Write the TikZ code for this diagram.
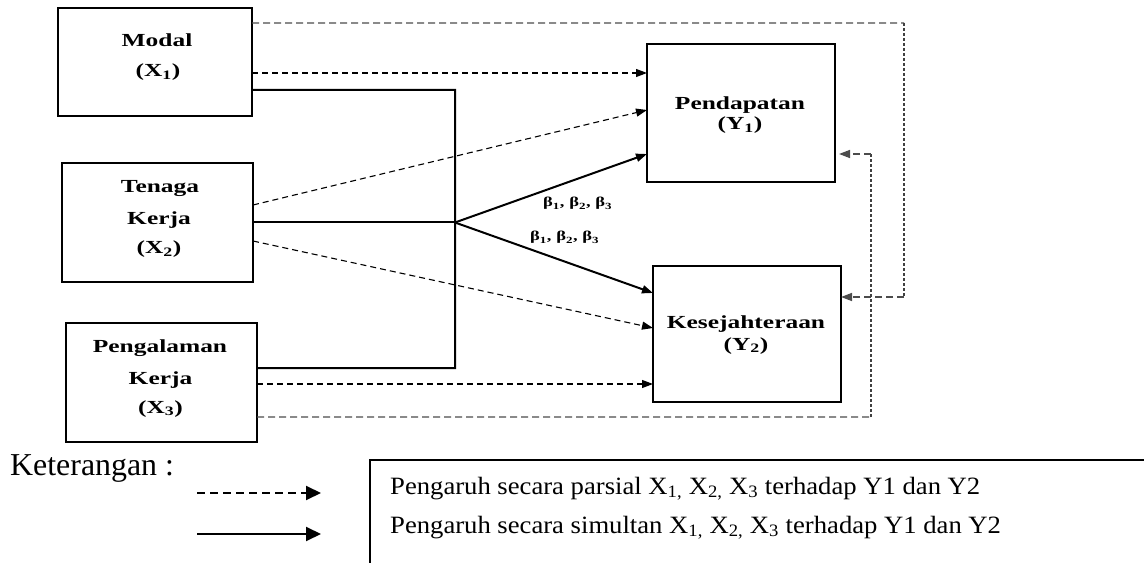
\documentclass[tikz,border=0pt]{standalone}
\usepackage{fontspec}
\setmainfont{Liberation Serif}
\newfontfamily\boxfont[FakeStretch=1.38]{Liberation Serif}
\newfontfamily\legfont[FakeStretch=1.07]{Liberation Serif}
\usetikzlibrary{arrows.meta}
\tikzset{
  box/.style={draw, line width=1.2bp, inner sep=0pt, outer sep=0pt},
  lbl/.style={anchor=base, inner sep=0pt, font=\boxfont\bfseries\fontsize{18.5}{20}\selectfont},
  betalbl/.style={anchor=base west, inner sep=0pt, font=\boxfont\bfseries\fontsize{13.5}{15}\selectfont},
  sol/.style={line width=2bp},
  dsh/.style={line width=1.1bp, dash pattern=on 6bp off 4bp},
  dvert/.style={line width=1.6bp, dash pattern=on 3bp off 2bp, draw=black!75},
  dhor/.style={line width=1.4bp, dash pattern=on 7bp off 4bp, draw=black!70},
  arr/.style={-{Triangle[length=11bp,width=8bp]}},
  legarr/.style={-{Triangle[length=15bp,width=14bp]}},
  legtxt/.style={anchor=base west, inner sep=0pt, font=\legfont\fontsize{25}{28}\selectfont},
}
\begin{document}
\begin{tikzpicture}[x=1bp,y=-1bp]
\useasboundingbox (0,0) rectangle (1144,563);

% boxes
\node[box, minimum width=194bp, minimum height=108bp] (x1) at (155,62) {};
\node[box, minimum width=191bp, minimum height=119bp] (x2) at (157.5,222.5) {};
\node[box, minimum width=191bp, minimum height=119bp] (x3) at (161.5,382.5) {};
\node[box, minimum width=188bp, minimum height=138bp] (y1) at (741,113) {};
\node[box, minimum width=188bp, minimum height=136bp] (y2) at (747,334) {};

% box labels
\node[lbl] (t1a) at (157,47) {Modal};
\node[lbl] (t1b) at (158,77) {(X\textsubscript{1})};
\node[lbl] (t2a) at (160,193) {Tenaga};
\node[lbl] (t2b) at (159,225) {Kerja};
\node[lbl] (t2c) at (159,254) {(X\textsubscript{2})};
\node[lbl] (t3a) at (160,352) {Pengalaman};
\node[lbl] (t3b) at (160.5,384) {Kerja};
\node[lbl] (t3c) at (160.5,413) {(X\textsubscript{3})};
\node[lbl] (u1a) at (740,110) {Pendapatan};
\node[lbl] (u1b) at (740,130) {(Y\textsubscript{1})};
\node[lbl] (u2a) at (746,329) {Kesejahteraan};
\node[lbl] (u2b) at (746,350) {(Y\textsubscript{2})};

% solid (simultaneous) paths
\coordinate (j1) at (455,90);
\coordinate (j2) at (455,368);
\coordinate (j) at (455,222.5);
\draw[sol] ([yshift=-82bp]x1.north east) -- (j1) -- (j2) -- (x3.east |- j2);
\draw[sol] (x2.east) -- (j);
\draw[sol,arr] (j) -- ([yshift=-110bp]y1.north west);
\draw[sol,arr] (j) -- ([yshift=-27bp]y2.north west);

\node[betalbl] (b1) at (543,207) {β\textsubscript{1}, β\textsubscript{2}, β\textsubscript{3}};
\node[betalbl] (b2) at (530,241) {β\textsubscript{1}, β\textsubscript{2}, β\textsubscript{3}};

% dashed (partial) paths
\draw[dsh,arr] ([yshift=-65bp]x1.north east) coordinate (p1) -- (y1.west |- p1);
\draw[dsh,arr] ([yshift=-42bp]x2.north east) -- ([yshift=-66bp]y1.north west);
\draw[dsh,arr] ([yshift=-78bp]x2.north east) -- ([yshift=-62bp]y2.north west);
\draw[dsh,arr] ([yshift=-61bp]x3.north east) coordinate (p3) -- (y2.west |- p3);

% feedback paths
\coordinate (ca1) at (904,23);
\coordinate (ca2) at (904,297);
\draw[dhor] ([yshift=-15bp]x1.north east) -- (ca1);
\draw[dvert] (ca1) -- (ca2);
\draw[dhor,arr] (ca2) -- (y2.east |- ca2);

\coordinate (cb1) at (871,417);
\coordinate (cb2) at (871,154);
\draw[dhor] ([yshift=25bp]x3.south east) -- (cb1);
\draw[dvert] (cb1) -- (cb2);
\draw[dhor,arr,shorten >=4bp] (cb2) -- (y1.east |- cb2);

% legend
\node[anchor=base west, inner sep=0pt, font=\fontsize{32}{35}\selectfont] (ket) at (10,475) {Keterangan :};
\coordinate (ld1) at (197,493);
\coordinate (ld2) at (321,493);
\coordinate (ls1) at (197,534);
\coordinate (ls2) at (321,534);
\draw[line width=2bp, dash pattern=on 8bp off 5bp, legarr] (ld1) -- (ld2);
\draw[line width=2bp, legarr] (ls1) -- (ls2);
\coordinate (lb1) at (1144,460);
\coordinate (lb2) at (370,460);
\coordinate (lb3) at (370,563);
\draw[line width=1.4bp] (lb1) -- (lb2) -- (lb3);
\node[legtxt] (lt1) at (390,494) {Pengaruh secara parsial X\textsubscript{1,} X\textsubscript{2,} X\textsubscript{3} terhadap Y1 dan Y2};
\node[legtxt] (lt2) at (390,533) {Pengaruh secara simultan X\textsubscript{1,} X\textsubscript{2,} X\textsubscript{3} terhadap Y1 dan Y2};
\end{tikzpicture}
\end{document}
